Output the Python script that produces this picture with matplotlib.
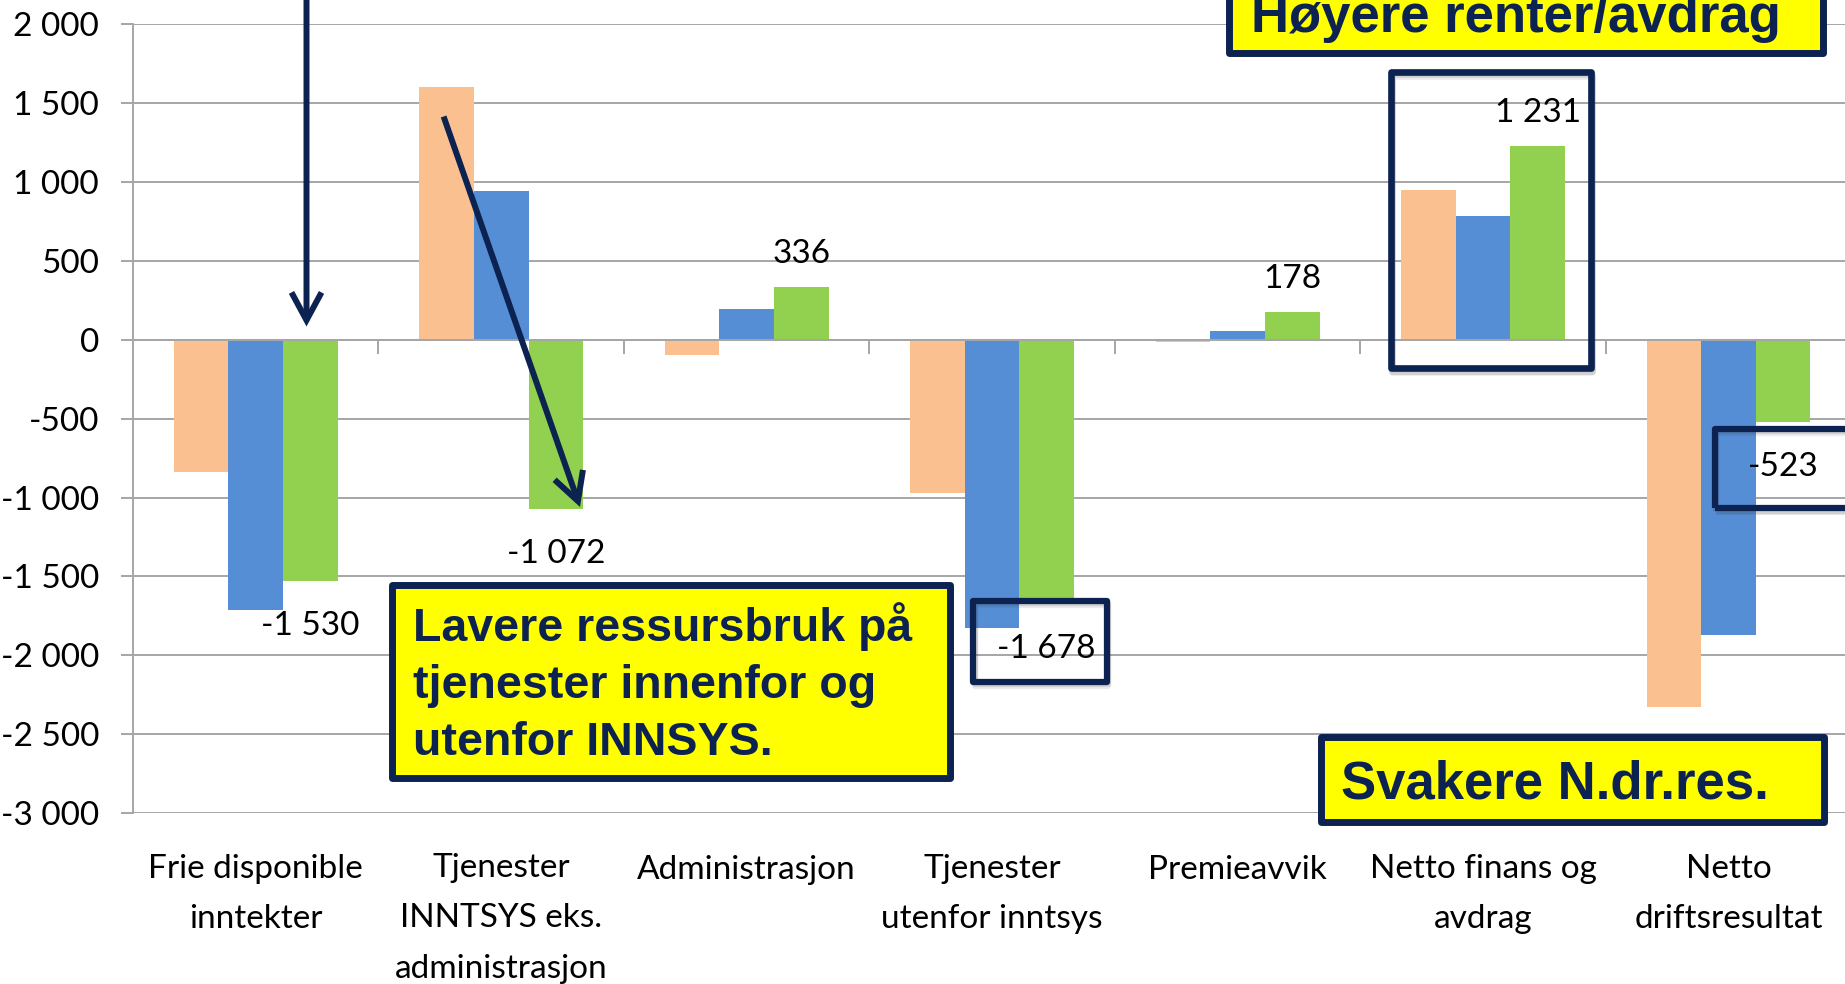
import matplotlib
matplotlib.use("Agg")
import matplotlib.pyplot as plt
from matplotlib.patches import Rectangle, FancyArrowPatch
import numpy as np

# ---------------- data ----------------
categories = ["Frie disponible\ninntekter",
              "Tjenester\nINNTSYS eks.\nadministrasjon",
              "Administrasjon",
              "Tjenester\nutenfor inntsys",
              "Premieavvik",
              "Netto finans og\navdrag",
              "Netto\ndriftsresultat"]
series_orange = [-841, 1601, -95, -968, -12, 949, -2330]
series_blue = [-1711, 946, 194, -1827, 53, 788, -1869]
series_green = [-1530, -1072, 336, -1678, 178, 1231, -523]
yticks = [-3000, -2500, -2000, -1500, -1000, -500, 0, 500, 1000, 1500, 2000]

c_orange = "#FAC090"
c_blue = "#558ED5"
c_green = "#92D050"
navy = "#0C2250"
yellow = "#FFFF00"
grid_c = "#A6A6A6"

LABEL_FONT = ["Lato", "DejaVu Sans"]
BOX_FONT = ["Liberation Sans", "DejaVu Sans"]


def fmt(v):
    return f"{v:,}".replace(",", " ")


W, H = 1845, 984
fig = plt.figure(figsize=(W / 100, H / 100), dpi=100)
ax = fig.add_axes([133 / W, (H - 813) / H, 1718.4 / W, (813 - 24.4) / H])

x = np.arange(len(categories))
bw = 0.2222
ax.bar(x - bw, series_orange, bw, color=c_orange, zorder=2)
ax.bar(x, series_blue, bw, color=c_blue, zorder=2)
ax.bar(x + bw, series_green, bw, color=c_green, zorder=2)

ax.set_xlim(-0.5, len(categories) - 0.5)
ax.set_ylim(min(yticks), max(yticks))
ax.set_yticks(yticks)
ax.set_yticklabels([fmt(v) for v in yticks], family=LABEL_FONT, fontsize=24)
ax.yaxis.grid(True, color=grid_c, lw=1.4, zorder=0)
ax.set_axisbelow(True)

for s in ["top", "right"]:
    ax.spines[s].set_visible(False)
ax.spines["left"].set_color(grid_c)
ax.spines["left"].set_linewidth(1.4)
ax.spines["bottom"].set_position(("data", 0))
ax.spines["bottom"].set_color(grid_c)
ax.spines["bottom"].set_linewidth(1.4)
ax.set_xticks(np.arange(0.5, len(categories) - 0.5, 1.0))
ax.set_xticklabels([])
ax.tick_params(axis="x", direction="out", length=10, width=1.4, color=grid_c)
ax.tick_params(axis="y", direction="out", length=9, width=1.4, color=grid_c, pad=15.5)

# category labels below plot (va=baseline anchors the LAST line)
CAT_STEP = 49.5
for i, c in enumerate(categories):
    n = c.count("\n")
    ax.annotate(c, xy=(i, 0), xycoords=("data", "axes fraction"),
                xytext=(0, -66 - n * CAT_STEP), textcoords="offset pixels",
                ha="center", va="baseline", fontsize=24, family=LABEL_FONT,
                linespacing=1.86, annotation_clip=False)

# data labels on green series
for i, v in enumerate(series_green):
    ax.annotate(fmt(v), xy=(i + bw, v), xytext=(0, 24 if v > 0 else -54),
                textcoords="offset pixels", ha="center", va="baseline",
                fontsize=24, family=LABEL_FONT, annotation_clip=False)


# ---------------- annotations (figure pixel coords, y from top) ----------------
def fx(px):
    return px / W


def fy(py):
    return 1 - py / H


def box(x0, y0, x1, y1, fill=None, lw=5.0, z=5, shadow=True):
    if shadow:
        for k, a in ((4, 0.10), (2.5, 0.16)):
            s = Rectangle((fx(x0 + 1), fy(y1 + k)), (x1 - x0) / W, (y1 - y0) / H,
                          transform=fig.transFigure, facecolor="none",
                          edgecolor="#404040", alpha=a, lw=lw, joinstyle="round",
                          zorder=z - 0.5)
            fig.add_artist(s)
    r = Rectangle((fx(x0), fy(y1)), (x1 - x0) / W, (y1 - y0) / H,
                  transform=fig.transFigure, facecolor=fill if fill else "none",
                  edgecolor=navy, lw=lw, joinstyle="round", zorder=z)
    fig.add_artist(r)


def arrow(x0, y0, x1, y1):
    a = FancyArrowPatch((fx(x0), fy(y0)), (fx(x1), fy(y1)), transform=fig.transFigure,
                        arrowstyle="->,head_length=20,head_width=10.8", mutation_scale=1,
                        color=navy, lw=4.3, shrinkA=0, shrinkB=0, zorder=6,
                        capstyle="butt", joinstyle="miter")
    fig.add_artist(a)


# outline boxes
box(1390.5, 71.8, 1591, 368.2, lw=4.8)
box(973.5, 600.8, 1107, 681.5, lw=4.5)
box(1715.2, 428.5, 1900, 508.2, lw=4.5)

# yellow boxes
box(392, 585.2, 949.5, 778.2, fill=yellow, lw=5.0, shadow=False)
fig.text(fx(413), fy(755), "Lavere ressursbruk på\ntjenester innenfor og\nutenfor INNSYS.",
         ha="left", va="baseline", fontsize=33.5, fontweight="bold", color=navy,
         family=BOX_FONT, linespacing=1.38, zorder=7)

box(1229, -60, 1823.4, 53.2, fill=yellow, lw=5.0, shadow=False)
fig.text(fx(1251), fy(32.3), "Høyere renter/avdrag", ha="left", va="baseline",
         fontsize=38, fontweight="bold", color=navy, family=BOX_FONT, zorder=7)

box(1320.5, 736.8, 1823.5, 821.5, fill=yellow, lw=5.0, shadow=False)
fig.text(fx(1341), fy(798.3), "Svakere N.dr.res.", ha="left", va="baseline",
         fontsize=38, fontweight="bold", color=navy, family=BOX_FONT, zorder=7)

# arrows
arrow(306.5, -30, 306.5, 326.5)
arrow(443.6, 116.5, 580, 507)

fig.savefig("out.png", dpi=100)
